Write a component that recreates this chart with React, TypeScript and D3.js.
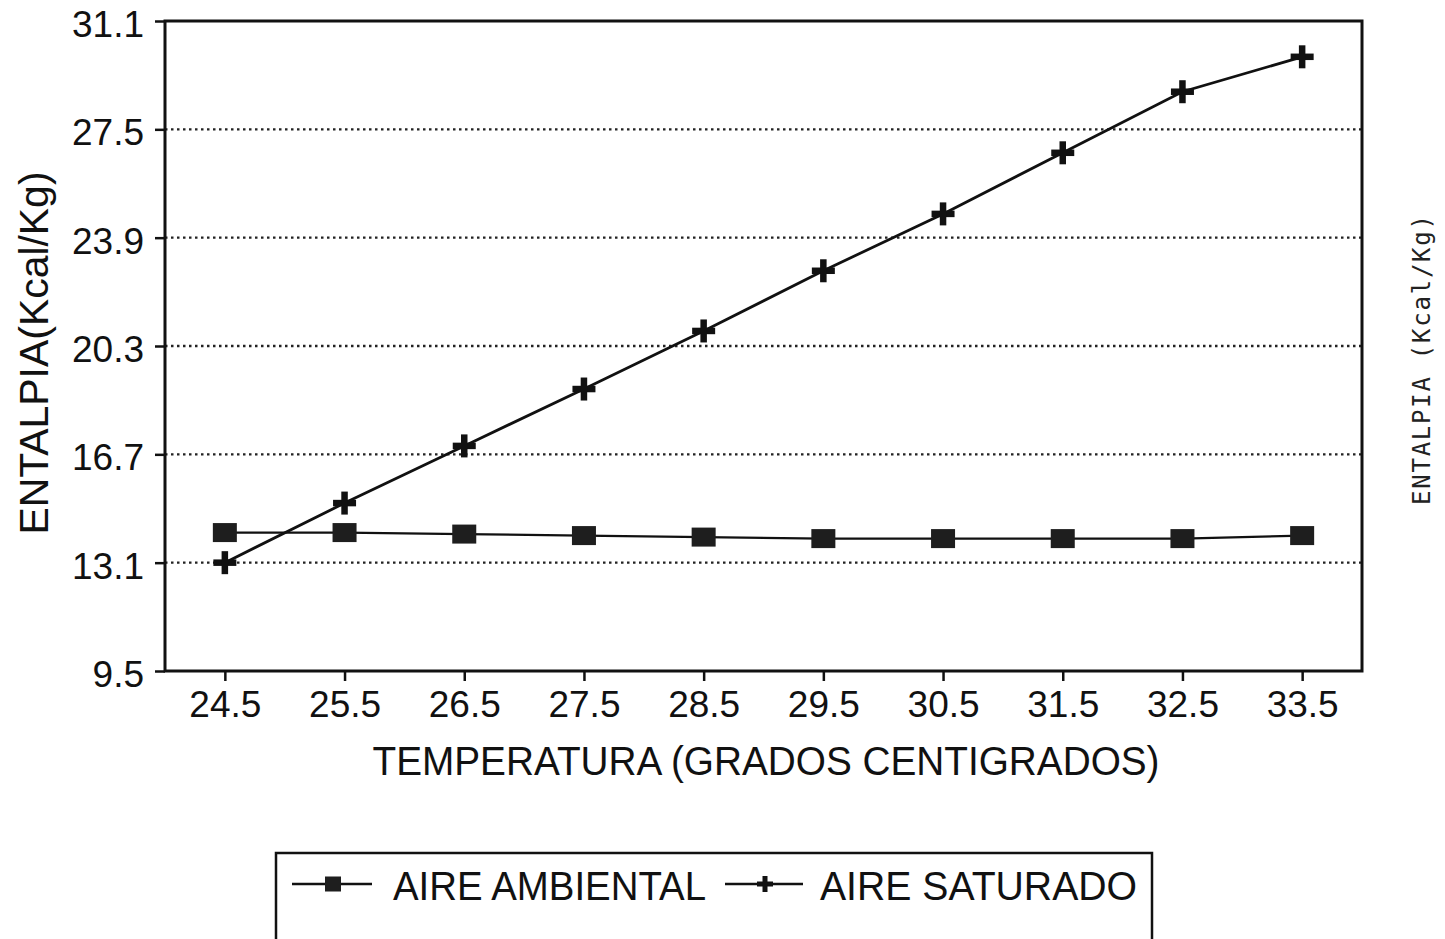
import React, { useEffect, useRef } from "react";
import { axisBottom, axisLeft, format, line, scaleLinear, scalePoint, select } from "d3";

// temperatures on the x axis
const temperatures = ["24.5", "25.5", "26.5", "27.5", "28.5", "29.5", "30.5", "31.5", "32.5", "33.5"];
// enthalpy values (Kcal/Kg)
const aireAmbiental = [14.1, 14.1, 14.05, 14.0, 13.95, 13.9, 13.9, 13.9, 13.9, 14.0];
const aireSaturado = [13.1, 15.08, 16.98, 18.87, 20.8, 22.8, 24.69, 26.72, 28.75, 29.91];
const yTicks = [9.5, 13.1, 16.7, 20.3, 23.9, 27.5, 31.1];

const FONT = "'Liberation Sans', Arial, sans-serif";

const left = 165;
const right = 1362;
const top = 21;
const bottom = 671;

const x = scalePoint<string>().domain(temperatures).range([left, right]).padding(0.5);
const y = scaleLinear().domain([9.5, 31.1]).range([bottom, top]);

function AxisX() {
  const ref = useRef<SVGGElement>(null);
  useEffect(() => {
    if (!ref.current) return;
    const g = select(ref.current);
    g.call(axisBottom(x).tickSize(10).tickPadding(10));
    g.select(".domain").remove();
    g.selectAll(".tick line").attr("stroke", "#111").attr("stroke-width", 2.5);
    g.selectAll(".tick text")
      .attr("font-size", 37)
      .attr("font-family", FONT)
      .attr("fill", "#111");
  }, []);
  return <g ref={ref} transform={`translate(0, ${bottom})`} />;
}

function AxisY() {
  const ref = useRef<SVGGElement>(null);
  useEffect(() => {
    if (!ref.current) return;
    const g = select(ref.current);
    g.call(axisLeft(y).tickValues(yTicks).tickFormat(format(".1f")).tickSize(10).tickPadding(11));
    g.select(".domain").remove();
    g.selectAll(".tick line").attr("stroke", "#111").attr("stroke-width", 2.5);
    g.selectAll(".tick text")
      .attr("font-size", 37)
      .attr("font-family", FONT)
      .attr("dy", "0.42em")
      .attr("fill", "#111");
  }, []);
  return <g ref={ref} transform={`translate(${left}, 0)`} />;
}

const lineGen = line<number>()
  .x((_, i) => x(temperatures[i])!)
  .y((d) => y(d));

function Square({ cx, cy, w, h }: { cx: number; cy: number; w: number; h: number }) {
  return <rect x={cx - w / 2} y={cy - h / 2} width={w} height={h} fill="#1e1e1e" />;
}

function Plus({ cx, cy, s, t }: { cx: number; cy: number; s: number; t: number }) {
  return (
    <g fill="#111">
      <rect x={cx - s / 2} y={cy - t / 2} width={s} height={t} />
      <rect x={cx - t / 2} y={cy - s / 2} width={t} height={s} />
    </g>
  );
}

export default function App() {
  return (
    <svg
      width={1445}
      height={939}
      style={{ position: "absolute", left: 0, top: 0, background: "#fff" }}
    >
      <rect width={1445} height={939} fill="#fff" />

      {/* dotted gridlines */}
      {yTicks
        .filter((t) => t !== 9.5 && t !== 31.1)
        .map((t) => (
          <line
            key={`grid-${t}`}
            x1={left}
            x2={right}
            y1={y(t)}
            y2={y(t)}
            stroke="#222"
            strokeWidth={2.4}
            strokeDasharray="2.5 3.5"
          />
        ))}

      {/* frame */}
      <rect
        x={left}
        y={top}
        width={right - left}
        height={bottom - top}
        fill="none"
        stroke="#111"
        strokeWidth={3}
      />

      <AxisX />
      <AxisY />

      {/* series */}
      <path d={lineGen(aireAmbiental)!} fill="none" stroke="#111" strokeWidth={2.2} />
      <path d={lineGen(aireSaturado)!} fill="none" stroke="#111" strokeWidth={2.8} />
      {aireAmbiental.map((v, i) => (
        <Square key={`sq-${i}`} cx={x(temperatures[i])!} cy={y(v)} w={24} h={19} />
      ))}
      {aireSaturado.map((v, i) => (
        <Plus key={`pl-${i}`} cx={x(temperatures[i])!} cy={y(v)} s={23} t={6.5} />
      ))}

      {/* axis titles */}
      <text
        x={766}
        y={775}
        textAnchor="middle"
        fontFamily={FONT}
        fontSize={40}
        fill="#111"
        textLength={787}
        lengthAdjust="spacingAndGlyphs"
      >
        TEMPERATURA (GRADOS CENTIGRADOS)
      </text>
      <text
        transform="translate(48, 353) rotate(-90)"
        textAnchor="middle"
        fontFamily={FONT}
        fontSize={40}
        fill="#111"
        textLength={363}
        lengthAdjust="spacingAndGlyphs"
      >
        ENTALPIA(Kcal/Kg)
      </text>
      <text
        transform="translate(1430, 360) rotate(-90)"
        textAnchor="middle"
        fontFamily="'DejaVu Sans Mono', monospace"
        fontSize={24}
        fill="#222"
        textLength={290}
        lengthAdjust="spacing"
      >
        ENTALPIA (Kcal/Kg)
      </text>

      {/* legend */}
      <rect x={276} y={853} width={876} height={90} fill="none" stroke="#111" strokeWidth={2.5} />
      <line x1={292} x2={372} y1={884} y2={884} stroke="#111" strokeWidth={2.5} />
      <Square cx={333} cy={884} w={16} h={15} />
      <text
        x={393}
        y={900}
        fontFamily={FONT}
        fontSize={40}
        fill="#111"
        textLength={313}
        lengthAdjust="spacingAndGlyphs"
      >
        AIRE AMBIENTAL
      </text>
      <line x1={725} x2={803} y1={884} y2={884} stroke="#111" strokeWidth={2.5} />
      <Plus cx={765} cy={884} s={16} t={5} />
      <text
        x={820}
        y={900}
        fontFamily={FONT}
        fontSize={40}
        fill="#111"
        textLength={317}
        lengthAdjust="spacingAndGlyphs"
      >
        AIRE SATURADO
      </text>
    </svg>
  );
}
